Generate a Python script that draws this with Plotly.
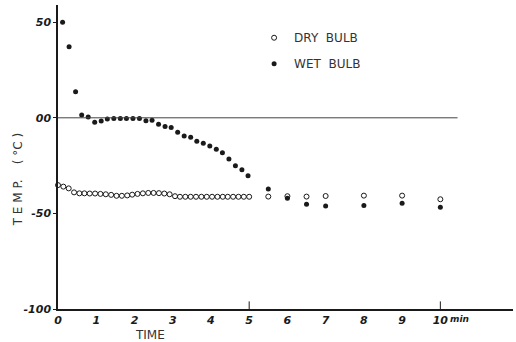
import plotly.graph_objects as go

# Wet-bulb readings (minutes, °C)
wet_time = [0.12, 0.29, 0.46, 0.62, 0.79, 0.96, 1.13, 1.29, 1.46, 1.63,
            1.79, 1.96, 2.13, 2.30, 2.46, 2.63, 2.80, 2.96, 3.13, 3.30,
            3.47, 3.63, 3.80, 3.97, 4.14, 4.30, 4.47, 4.64, 4.81, 4.97,
            5.50, 6.00, 6.50, 7.00, 8.00, 9.00, 10.00]
wet_temp = [50.0, 37.2, 13.6, 1.5, 0.4, -2.3, -1.7, -0.6, -0.4, -0.4,
            -0.4, -0.4, -0.4, -1.5, -1.3, -3.4, -4.6, -5.1, -7.6, -9.5,
            -10.2, -12.2, -13.3, -14.7, -16.4, -18.3, -21.5, -25.1, -27.2, -30.3,
            -37.2, -42.1, -45.2, -46.1, -45.9, -44.7, -46.8]

# Dry-bulb readings (minutes, °C)
dry_time = [0.00, 0.14, 0.28, 0.42, 0.56, 0.69, 0.83, 0.97, 1.11, 1.25,
            1.39, 1.53, 1.67, 1.81, 1.94, 2.08, 2.22, 2.36, 2.50, 2.64,
            2.78, 2.92, 3.06, 3.19, 3.33, 3.47, 3.61, 3.75, 3.89, 4.03,
            4.17, 4.31, 4.44, 4.58, 4.72, 4.86, 5.00,
            5.50, 6.00, 6.50, 7.00, 8.00, 9.00, 10.00]
dry_temp = [-35.2, -36.0, -36.9, -39.0, -39.5, -39.5, -39.6, -39.6, -39.8, -40.0,
            -40.3, -40.8, -40.8, -40.6, -40.2, -39.8, -39.5, -39.3, -39.3, -39.4,
            -39.6, -40.0, -41.0, -41.3, -41.3, -41.3, -41.3, -41.3, -41.3, -41.3,
            -41.3, -41.3, -41.3, -41.3, -41.3, -41.3, -41.3,
            -41.2, -41.0, -41.2, -40.9, -40.7, -40.7, -42.6]

x_tick_vals = [0, 1, 2, 3, 4, 5, 6, 7, 8, 9, 10]
x_tick_text = ["0", "1", "2", "3", "4", "5", "6", "7", "8", "9", "10"]
y_tick_vals = [50, 0, -50, -100]
y_tick_text = ["50", "00", "-50", "-100"]

INK = "#1a1a1a"
tick_font = dict(family="DejaVu Sans", size=11, color=INK, style="italic", weight=600)
label_font = dict(family="DejaVu Sans", size=12, color="#333333")

fig = go.Figure()

fig.add_trace(go.Scatter(
    x=dry_time, y=dry_temp, mode="markers", name="DRY  BULB",
    legendgroup="dry",
    marker=dict(symbol="circle-open", size=5, color=INK, line=dict(width=1, color=INK)),
    cliponaxis=False,
))
fig.add_trace(go.Scatter(
    x=wet_time, y=wet_temp, mode="markers", name="WET  BULB",
    legendgroup="wet",
    marker=dict(symbol="circle", size=5, color=INK),
    cliponaxis=False,
))

# Zero reference line across the chart
fig.add_shape(type="line", xref="x", yref="y", x0=0, x1=10.45, y0=0, y1=0,
              line=dict(color="#444444", width=1))

# Small upward ticks at 5 and 10 minutes
for tv in (5, 10):
    fig.add_shape(type="line", xref="x", yref="paper", x0=tv, x1=tv, y0=0, y1=0.025,
                  line=dict(color=INK, width=1))

fig.add_annotation(text="min", x=10, y=0, xref="x", yref="paper", xanchor="left",
                   yanchor="top", xshift=8, yshift=-3, showarrow=False,
                   font=dict(family="DejaVu Sans", size=9, color=INK, style="italic", weight=700))

fig.add_annotation(text="T E M P.    ( °C )", textangle=-90, x=-0.089, y=0.425,
                   xref="paper", yref="paper", xanchor="center", yanchor="middle",
                   showarrow=False, font=label_font)
fig.add_annotation(text="TIME", x=0.203, y=-0.084, xref="paper", yref="paper",
                   xanchor="center", yanchor="middle",
                   showarrow=False, font=label_font)

fig.update_xaxes(
    range=[0, 11.9], showgrid=False, zeroline=False,
    showline=True, linecolor=INK, linewidth=1.5,
    tickvals=x_tick_vals, ticktext=x_tick_text, ticks="",
    tickfont=tick_font,
)
fig.update_yaxes(
    range=[-100, 59], showgrid=False, zeroline=False,
    showline=True, linecolor=INK, linewidth=1.5,
    tickvals=y_tick_vals, ticktext=y_tick_text, ticks="outside", ticklen=3,
    tickcolor=INK, tickfont=tick_font,
)

fig.update_layout(
    width=516, height=342,
    margin=dict(l=57.5, r=3, t=5, b=32.5),
    paper_bgcolor="white", plot_bgcolor="white",
    showlegend=True,
    legend=dict(x=0.431, y=0.94, xanchor="left", yanchor="top",
                traceorder="grouped", tracegroupgap=7,
                font=dict(family="DejaVu Sans", size=12, color="#333333"),
                bgcolor="rgba(0,0,0,0)"),
)

fig.write_html("out.html")
